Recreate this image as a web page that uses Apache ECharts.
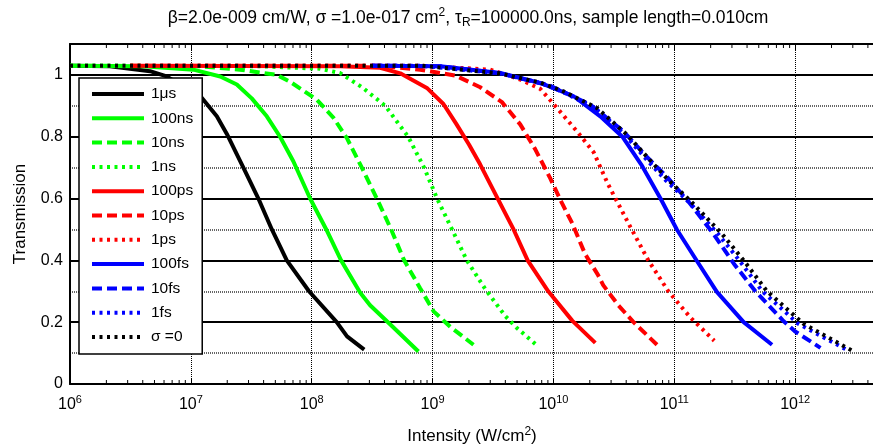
<!DOCTYPE html>
<html>
<head>
<meta charset="utf-8">
<script src="https://cdn.jsdelivr.net/npm/echarts@6/dist/echarts.min.js"></script>
<style>html,body{margin:0;padding:0;background:#fff}#c{width:873px;height:447px}</style>
</head>
<body>
<div id="c"></div>
<script>
// ---- data: [intensity (W/cm^2), transmission] ----
const names = ['1\u03bcs','100ns','10ns','1ns','100ps','10ps','1ps','100fs','10fs','1fs','\u03c3 =0'];

const s1us = [[1e6,1.03],[2.14e6,1.028],[4.59e6,1.012],[6.31e6,0.995],[1.23e7,0.926],[1.64e7,0.866],[1.98e7,0.81],[2.72e7,0.70],[3.62e7,0.60],[4.68e7,0.50],[6.22e7,0.40],[9.5e7,0.30],[1.61e8,0.20],[1.96e8,0.154],[2.72e8,0.111]];
const s100ns = [[1e6,1.03],[4.02e6,1.028],[1.05e7,1.017],[1.75e7,0.995],[2.40e7,0.969],[3.19e7,0.924],[4.25e7,0.866],[5.47e7,0.80],[7.06e7,0.72],[9.7e7,0.60],[1.32e8,0.50],[1.75e8,0.40],[2.52e8,0.295],[3.04e8,0.255],[4.54e8,0.19],[7.64e8,0.105]];
const s10ns = [[1e6,1.03],[1.19e7,1.028],[2.55e7,1.017],[5.14e7,1.0],[6.62e7,0.978],[1.10e8,0.92],[1.51e8,0.862],[1.95e8,0.796],[2.60e8,0.70],[3.46e8,0.60],[4.54e8,0.50],[5.82e8,0.40],[7.89e8,0.31],[1.02e9,0.235],[1.40e9,0.185],[2.18e9,0.127]];
const s1ns = [[1e6,1.03],[3.74e7,1.028],[1.17e8,1.02],[1.72e8,1.006],[2.61e8,0.96],[4.06e8,0.90],[6.28e8,0.80],[8.51e8,0.70],[1.09e9,0.60],[1.45e9,0.50],[1.92e9,0.40],[2.72e9,0.308],[3.99e9,0.22],[4.99e9,0.181],[7.21e9,0.127]];
const s100ps = [[3.16e6,1.03],[1.72e8,1.028],[3.68e8,1.023],[5.40e8,1.005],[8.97e8,0.958],[1.23e9,0.906],[1.58e9,0.84],[2.00e9,0.775],[2.48e9,0.71],[3.46e9,0.60],[4.68e9,0.50],[6.12e9,0.40],[9.06e9,0.30],[1.43e10,0.205],[2.22e10,0.133]];
const s10ps = [[3.16e6,1.03],[3.68e8,1.03],[7.89e8,1.017],[1.54e9,0.998],[2.48e9,0.96],[3.75e9,0.912],[5.31e9,0.84],[7.06e9,0.76],[9.42e9,0.665],[1.16e10,0.59],[1.43e10,0.52],[1.83e10,0.42],[2.33e10,0.354],[2.58e10,0.32],[3.44e10,0.255],[4.60e10,0.20],[7.19e10,0.127]];
const s1ps = [[3.16e6,1.03],[7.89e8,1.03],[3.0e9,1.017],[5.31e9,0.985],[7.78e9,0.955],[1.07e10,0.893],[1.57e10,0.817],[2.15e10,0.75],[2.84e10,0.645],[4.33e10,0.508],[6.10e10,0.40],[8.93e10,0.30],[1.36e11,0.215],[2.14e11,0.14]];
const s100fs = [[3.16e8,1.03],[1.16e9,1.028],[3.63e9,1.006],[7.78e9,0.974],[1.47e10,0.931],[2.44e10,0.866],[3.72e10,0.80],[5.33e10,0.71],[7.69e10,0.60],[1.05e11,0.50],[1.54e11,0.398],[2.25e11,0.298],[3.75e11,0.20],[6.44e11,0.127]];
const s10fs = [[3.16e8,1.03],[1.16e9,1.028],[3.63e9,1.005],[9.42e9,0.965],[2.02e10,0.904],[3.80e10,0.817],[5.75e10,0.74],[8.71e10,0.67],[1.31e11,0.59],[2.07e11,0.49],[3.10e11,0.39],[4.69e11,0.30],[8.04e11,0.203],[1.0e12,0.17],[1.62e12,0.117]];
const s1fs = [[3.16e8,1.03],[7.94e8,1.03],[3.63e9,1.005],[7.78e9,0.974],[1.17e10,0.947],[2.19e10,0.893],[3.88e10,0.807],[5.78e10,0.73],[8.45e10,0.66],[1.31e11,0.59],[2.31e11,0.485],[3.45e11,0.40],[5.35e11,0.30],[1.06e12,0.195],[2.75e12,0.108]];
const sSigma0 = [[1e6,1.03],[7.94e8,1.03],[3.63e9,1.005],[7.78e9,0.975],[1.21e10,0.947],[2.29e10,0.893],[4.06e10,0.807],[6.10e10,0.73],[8.93e10,0.66],[1.38e11,0.59],[2.49e11,0.485],[3.75e11,0.40],[5.85e11,0.30],[1.17e12,0.195],[3.05e12,0.105]];

const seriesData = [s1us,s100ns,s10ns,s1ns,s100ps,s10ps,s1ps,s100fs,s10fs,s1fs,sSigma0];
const colors = ['#000000','#00ff00','#00ff00','#00ff00','#ff0000','#ff0000','#ff0000','#0000ff','#0000ff','#0000ff','#000000'];
const dashes = ['solid','solid',[10,5],[3,4.5],'solid',[10,5],[3,4.5],'solid',[10,5],[3,4.5],[3,4.5]];

const xMin = 1e6, xMax = 1e13;
const yMin = 0, yMax = 1.1;
const minorTicks = [];
for (let e = 6; e < 13; e++) for (let k = 2; k <= 9; k++) minorTicks.push(k * Math.pow(10, e));

const FONT = "'Liberation Sans', Arial, sans-serif";

const chart = echarts.init(document.getElementById('c'), null, {renderer: 'canvas'});

const series = seriesData.map((d, i) => ({
  name: names[i], type: 'line', data: d, showSymbol: false, symbol: 'circle', symbolSize: 0,
  smooth: false, animation: false, z: 2,
  lineStyle: {color: colors[i], width: 4, type: dashes[i], cap: 'butt'},
  itemStyle: {color: colors[i]}
}));

series.push({
  type: 'custom', name: 'minorTicks', silent: true, animation: false, z: 1,
  data: minorTicks.map(v => [v, yMin]),
  renderItem: function (params, api) {
    const p0 = api.coord([api.value(0), yMin]);
    const p1 = api.coord([api.value(0), yMax]);
    return {type: 'group', children: [
      {type: 'line', shape: {x1: p0[0], y1: p0[1], x2: p0[0], y2: p0[1] - 4}, style: {stroke: '#000', lineWidth: 1}},
      {type: 'line', shape: {x1: p1[0], y1: p1[1], x2: p1[0], y2: p1[1] + 4}, style: {stroke: '#000', lineWidth: 1}}
    ]};
  }
});

const option = {
  animation: false,
  backgroundColor: '#fff',
  graphic: [{
    type: 'text', x: 468, y: 18, z: 10,
    style: {
      text: '{t|\u03b2=2.0e-009 cm/W, \u03c3 =1.0e-017 cm}{sup|2}{t|, \u03c4}{sub|R}{t|=100000.0ns, sample length=0.010cm}',
      align: 'center', verticalAlign: 'middle',
      rich: {
        t: {fontSize: 17.5, fontFamily: FONT, fill: '#000'},
        sup: {fontSize: 12, fontFamily: FONT, fill: '#000', padding: [0, 0, 10, 0]},
        sub: {fontSize: 12, fontFamily: FONT, fill: '#000', padding: [10, 0, 0, 0]}
      }
    }
  }],
  grid: {left: 70, width: 846, top: 44, height: 340, containLabel: false, outerBoundsMode: 'none'},
  legend: {
    orient: 'vertical', left: 79, top: 78,
    itemWidth: 52, itemHeight: 14, itemGap: 8.3,
    padding: [8, 9, 9, 11],
    backgroundColor: '#fff', borderColor: '#000', borderWidth: 1.5,
    textStyle: {fontSize: 15.5, fontFamily: FONT, color: '#000', padding: [0, 0, 0, 2]},
    lineStyle: {width: 4},
    itemStyle: {color: 'rgba(0,0,0,0)', opacity: 0, borderWidth: 0},
    data: names
  },
  xAxis: [{
    type: 'log', logBase: 10, min: xMin, max: xMax, splitNumber: 7,
    name: 'Intensity (W/cm{sup|2})', nameLocation: 'middle', nameGap: 42,
    nameTextStyle: {fontFamily: FONT, fontSize: 17, color: '#000', padding: [0, 42, 0, 0],
      rich: {sup: {fontSize: 12, fontFamily: FONT, color: '#000', padding: [0, 0, 9, 0]}}},
    axisLine: {show: true, onZero: false, lineStyle: {color: '#000', width: 2}},
    axisTick: {show: true, inside: true, length: 6, lineStyle: {color: '#000', width: 1}},
    axisLabel: {
      margin: 10, color: '#000', fontFamily: FONT,
      formatter: function (v) {
        const e = Math.round(Math.log10(v));
        if (Math.abs(Math.log10(v) - e) > 0.01) return '';
        return '{b|10}{s|' + e + '}';
      },
      rich: {
        b: {fontSize: 16, fontFamily: FONT, color: '#000'},
        s: {fontSize: 11, fontFamily: FONT, color: '#000', padding: [0, 0, 10, 0]}
      }
    },
    splitLine: {show: true, lineStyle: {color: '#000', width: 1, type: [1, 1]}}
  }, {
    type: 'log', logBase: 10, min: xMin, max: xMax, splitNumber: 7, position: 'top',
    axisLine: {show: true, onZero: false, lineStyle: {color: '#000', width: 2}},
    axisTick: {show: true, inside: true, length: 6, lineStyle: {color: '#000', width: 1}},
    axisLabel: {show: false}, splitLine: {show: false}
  }],
  yAxis: [{
    type: 'value', min: yMin, max: yMax, interval: 0.2,
    name: 'Transmission', nameLocation: 'middle', nameGap: 41,
    nameTextStyle: {fontFamily: FONT, fontSize: 17, color: '#000'},
    axisLine: {show: true, onZero: false, lineStyle: {color: '#000', width: 2}},
    axisTick: {show: true, inside: true, length: 5, lineStyle: {color: '#000'}},
    axisLabel: {
      margin: 7, fontSize: 16, fontFamily: FONT, color: '#000',
      formatter: function (v) { return v > 1.05 ? '' : String(+v.toFixed(1)); }
    },
    splitLine: {show: true, lineStyle: {color: '#000', width: 2, type: 'solid'}}
  }, {
    type: 'value', min: yMin, max: yMax, interval: 0.1, position: 'left',
    axisLine: {show: false}, axisTick: {show: false}, axisLabel: {show: false},
    splitLine: {show: true, lineStyle: {color: ['rgba(0,0,0,0)', '#666'], width: 2, type: [1, 1]}}
  }],
  series: series
};
chart.setOption(option);
</script>
</body>
</html>
